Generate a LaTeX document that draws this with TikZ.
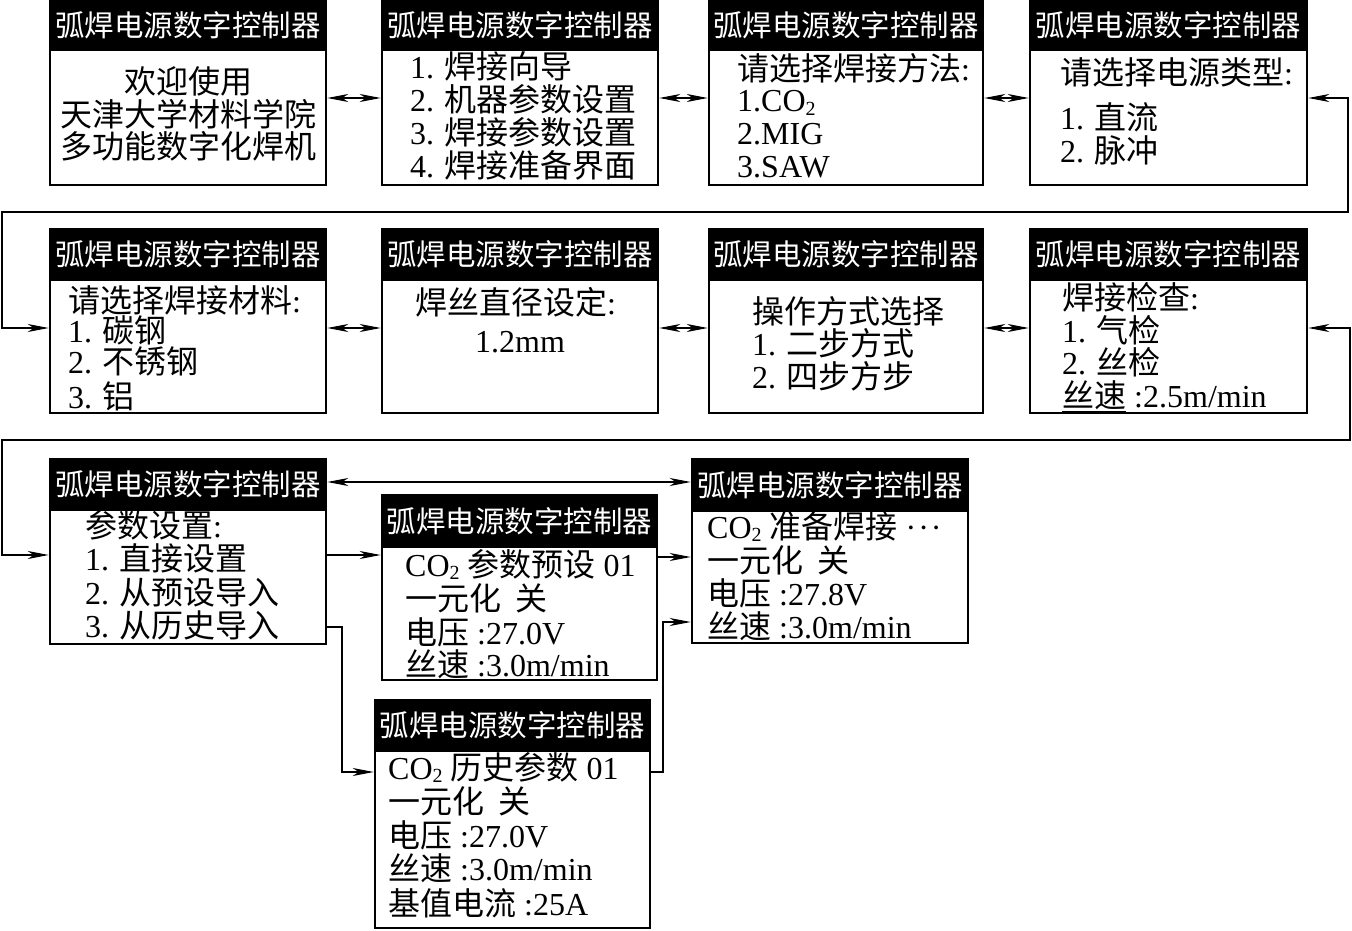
\documentclass[tikz,border=0pt]{standalone}
\usepackage{fontspec}
\setmainfont{Liberation Serif}
\newfontfamily\cjk{Noto Sans CJK SC}
\usetikzlibrary{arrows.meta}
\newcommand\zh[1]{{\cjk #1}}
\newcommand\co{CO\raisebox{-0.12em}{\fontsize{20}{20}\selectfont 2}}
\newcommand\yyg{\zh{一元化}\hspace{0.45em}\zh{关}}
\newcommand\mkscreen[6]{%
  \node[hdrbox, minimum width={#4pt-#2pt}, minimum height={#5pt-#3pt}] (#1h) at ({(#2+#4)/2},{(#3+#5)/2}) {\zh{弧焊电源数字控制器}};
  \node[bodybox, minimum width={#4pt-#2pt}, minimum height={#6pt-#5pt}] (#1) at ({(#2+#4)/2},{(#5+#6)/2}) {};
}
\tikzset{
  hdrbox/.style={fill=black, draw=black, line width=2.5pt, inner sep=0pt, text=white, font=\fontsize{29.5}{30}\selectfont},
  bodybox/.style={draw=black, fill=white, line width=2.5pt, inner sep=0pt},
  txt/.style={inner sep=0pt, font=\fontsize{32}{33}\selectfont},
  link/.style={line width=1.3pt},
  tip/.tip={Stealth[length=21pt,width=8pt,inset=6pt]},
  arr/.style={link, -tip},
  darr/.style={link, tip-tip}
}
\begin{document}
\begin{tikzpicture}[x=1pt,y=-1pt]
\useasboundingbox (0,0) rectangle (1352,931);
% row 1
\mkscreen{A}{50}{1}{326}{50}{185}
\mkscreen{B}{382}{1}{658}{50}{185}
\mkscreen{C}{709}{1}{983}{50}{185}
\mkscreen{D}{1030}{1}{1307}{50}{185}
% row 2
\mkscreen{E}{50}{229}{326}{280}{413}
\mkscreen{F}{382}{229}{658}{280}{413}
\mkscreen{G}{709}{229}{983}{280}{413}
\mkscreen{H}{1030}{229}{1307}{280}{413}
% row 3
\mkscreen{I}{50}{459}{326}{510}{644}
\mkscreen{J}{382}{495}{657}{547}{680}
\mkscreen{K}{692}{459}{968}{511}{643}
\mkscreen{L}{375}{700}{650}{751}{928}
% texts
\node[txt, anchor=base] (a1) at (188,94) {\zh{欢迎使用}};
\node[txt, anchor=base] (a2) at (188,127) {\zh{天津大学材料学院}};
\node[txt, anchor=base] (a3) at (188,159) {\zh{多功能数字化焊机}};
\node[txt, anchor=base west] (b1) at (410,79) {1. \zh{焊接向导}};
\node[txt, anchor=base west] (b2) at (410,112) {2. \zh{机器参数设置}};
\node[txt, anchor=base west] (b3) at (410,145) {3. \zh{焊接参数设置}};
\node[txt, anchor=base west] (b4) at (410,178) {4. \zh{焊接准备界面}};
\node[txt, anchor=base west] (c1) at (737,81) {\zh{请选择焊接方法}:};
\node[txt, anchor=base west] (c2) at (737,112) {1.\co};
\node[txt, anchor=base west] (c3) at (737,145) {2.MIG};
\node[txt, anchor=base west] (c4) at (737,178) {3.SAW};
\node[txt, anchor=base west] (d1) at (1060,85) {\zh{请选择电源类型}:};
\node[txt, anchor=base west] (d2) at (1060,130) {1. \zh{直流}};
\node[txt, anchor=base west] (d3) at (1060,162) {2. \zh{脉冲}};
\node[txt, anchor=base west] (e1) at (68,312) {\zh{请选择焊接材料}:};
\node[txt, anchor=base west] (e2) at (68,342) {1. \zh{碳钢}};
\node[txt, anchor=base west] (e3) at (68,373) {2. \zh{不锈钢}};
\node[txt, anchor=base west] (e4) at (68,408) {3. \zh{铝}};
\node[txt, anchor=base west] (f1) at (415,314) {\zh{焊丝直径设定}:};
\node[txt, anchor=base] (f2) at (520,352) {1.2mm};
\node[txt, anchor=base west] (g1) at (752,323) {\zh{操作方式选择}};
\node[txt, anchor=base west] (g2) at (752,355) {1. \zh{二步方式}};
\node[txt, anchor=base west] (g3) at (752,388) {2. \zh{四步方步}};
\node[txt, anchor=base west] (h1) at (1062,309) {\zh{焊接检查}:};
\node[txt, anchor=base west] (h2) at (1062,342) {1. \zh{气检}};
\node[txt, anchor=base west] (h3) at (1062,374) {2. \zh{丝检}};
\node[txt, anchor=base west] (h4) at (1062,407) {\underline{\zh{丝速}} :2.5m/min};
\node[txt, anchor=base west] (i1) at (85,537) {\zh{参数设置}:};
\node[txt, anchor=base west] (i2) at (85,570) {1. \zh{直接设置}};
\node[txt, anchor=base west] (i3) at (85,604) {2. \zh{从预设导入}};
\node[txt, anchor=base west] (i4) at (85,637) {3. \zh{从历史导入}};
\node[txt, anchor=base west] (j1) at (405,576) {\co\ \zh{参数预设} 01};
\node[txt, anchor=base west] (j2) at (405,610) {\yyg};
\node[txt, anchor=base west] (j3) at (405,644) {\zh{电压} :27.0V};
\node[txt, anchor=base west] (j4) at (405,676) {\underline{\zh{丝速}} :3.0m/min};
\node[txt, anchor=base west] (k1) at (707,538) {\co\ \zh{准备焊接} ·\kern2pt·\kern2pt·};
\node[txt, anchor=base west] (k2) at (707,572) {\yyg};
\node[txt, anchor=base west] (k3) at (707,605) {\zh{电压} :27.8V};
\node[txt, anchor=base west] (k4) at (707,638) {\underline{\zh{丝速}} :3.0m/min};
\node[txt, anchor=base west] (l1) at (388,779) {\co\ \zh{历史参数} 01};
\node[txt, anchor=base west] (l2) at (388,813) {\yyg};
\node[txt, anchor=base west] (l3) at (388,847) {\zh{电压} :27.0V};
\node[txt, anchor=base west] (l4) at (388,880) {\zh{丝速} :3.0m/min};
\node[txt, anchor=base west] (l5) at (388,915) {\zh{基值电流} :25A};
% connectors row 1
\draw[darr] (A.east |- 0,98) -- (B.west |- 0,98);
\draw[darr] (B.east |- 0,98) -- (C.west |- 0,98);
\draw[darr] (C.east |- 0,98) -- (D.west |- 0,98);
\draw[darr] (D.east |- 0,98) -- (1348,98) -- (1348,212) -- (2,212) -- (2,328) -- (E.west |- 0,328);
% row 2
\draw[darr] (E.east |- 0,328) -- (F.west |- 0,328);
\draw[darr] (F.east |- 0,328) -- (G.west |- 0,328);
\draw[darr] (G.east |- 0,328) -- (H.west |- 0,328);
\draw[darr] (H.east |- 0,328) -- (1350,328) -- (1350,440) -- (2,440) -- (2,555) -- (I.west |- 0,555);
% row 3
\draw[darr] (Ih.east |- 0,482) -- (Kh.west |- 0,482);
\draw[arr] (I.east |- 0,555) -- (J.west |- 0,555);
\draw[arr] (J.east |- 0,557) -- (K.west |- 0,557);
\draw[arr] (I.east |- 0,627) -- (342,627) -- (342,772) -- (L.west |- 0,772);
\draw[arr] (L.east |- 0,772) -- (663,772) -- (663,622) -- (K.west |- 0,622);
\end{tikzpicture}
\end{document}
